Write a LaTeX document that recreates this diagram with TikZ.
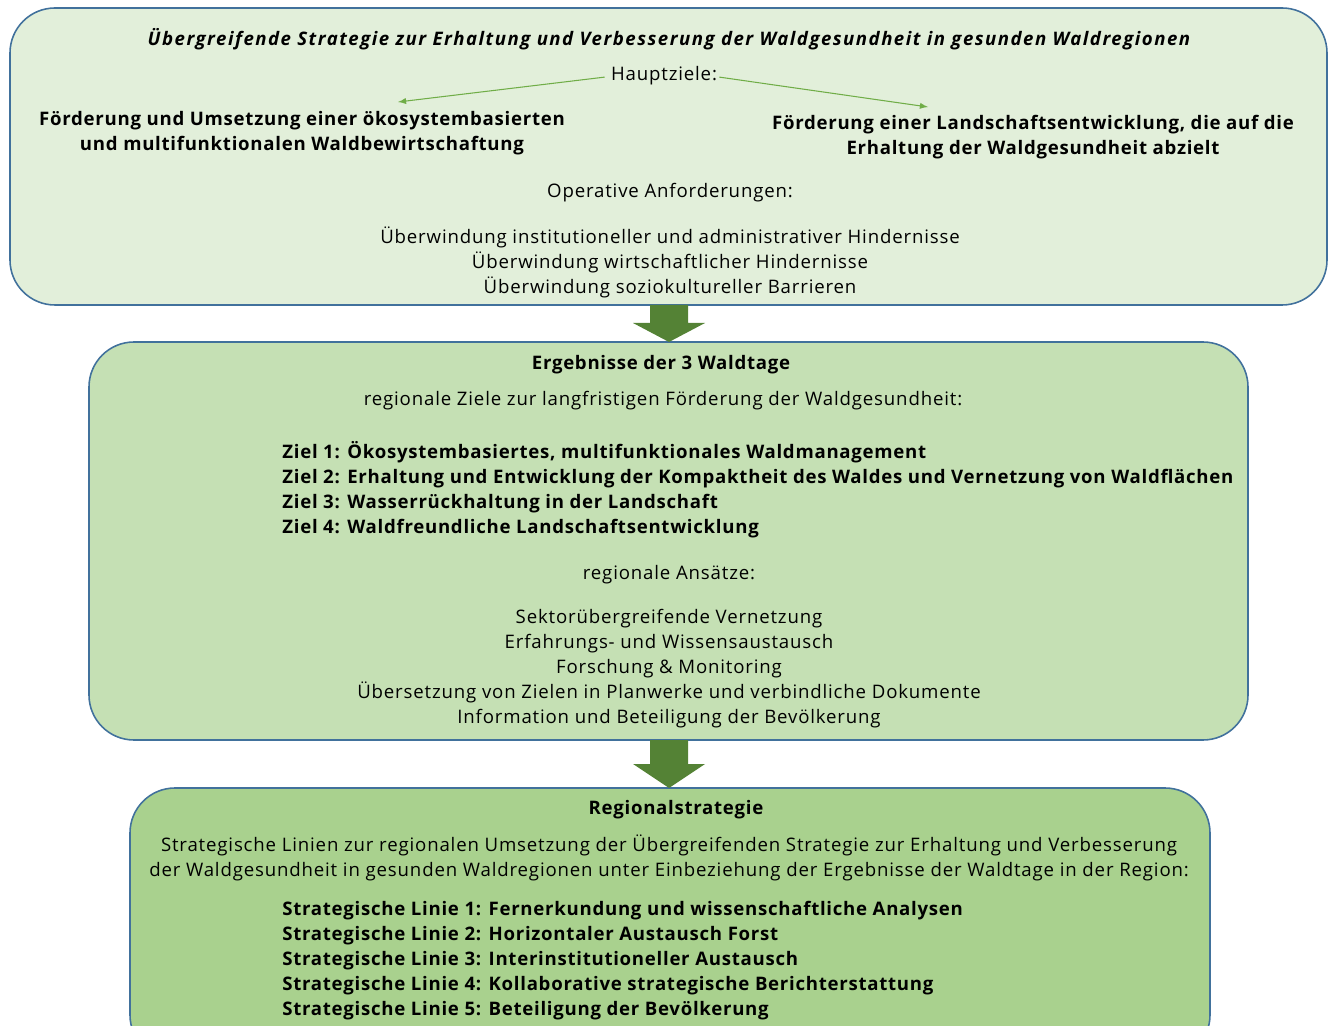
\documentclass[tikz,border=0pt]{standalone}
\usepackage{fontspec}
\setmainfont{Open Sans}[LetterSpace=4.5, BoldFeatures={LetterSpace=3.9}]
\usetikzlibrary{calc}
\definecolor{rahmen}{HTML}{41719C}
\definecolor{gruenA}{HTML}{E2EFDA}
\definecolor{gruenB}{HTML}{C5E0B4}
\definecolor{gruenC}{HTML}{A9D18E}
\definecolor{pfeilgruen}{HTML}{548235}
\definecolor{liniegruen}{HTML}{70AD47}
\tikzset{
  kasten/.style={draw=rahmen, line width=0.9pt, rounded corners=0.9cm},
  txt/.style={inner sep=0pt, yshift=-1.2pt, align=center, font=\fontsize{10.6}{14.2}\selectfont},
  fett/.style={txt, font=\fontsize{10.6}{14.2}\selectfont\bfseries},
  liste/.style={fett, align=left, anchor=west},
  dünn/.style={draw=liniegruen, line width=0.6pt, -latex},
}
\begin{document}
\begin{tikzpicture}[x=0.02cm, y=-0.02cm]
			%%%%% START %%%%%
			\useasboundingbox (0,0) rectangle (1328,1026);
			\clip (0,0) rectangle (1328,1026);
			
			% Kaesten
			\draw[kasten, fill=gruenA] (10,8) rectangle (1327,305);
			\draw[kasten, fill=gruenB] (89,342) rectangle (1248,740);
			\draw[kasten, fill=gruenC] (130,788) rectangle (1210,1060);
			
			% Blockpfeile
			\fill[pfeilgruen] (650,305) -- (688,305) -- (688,323) -- (705,323) -- (669,342) -- (633,323) -- (650,323) -- cycle;
			\fill[pfeilgruen] (650,740) -- (688,740) -- (688,764) -- (705,764) -- (669,788) -- (633,764) -- (650,764) -- cycle;
			
			% oberer Kasten
			\node[fett] (strategie) at (669,37) {\itshape\addfontfeature{LetterSpace=8}Übergreifende Strategie zur Erhaltung und Verbesserung der Waldgesundheit in gesunden Waldregionen};
			\node[txt] (hauptziele) at (664,74) {Hauptziele:};
			\node[fett] (zielL) at (302,131) {Förderung und Umsetzung einer ökosystembasierten\\und multifunktionalen Waldbewirtschaftung};
			\node[fett] (zielR) at (1033,135) {Förderung einer Landschaftsentwicklung, die auf die\\Erhaltung der Waldgesundheit abzielt};
			\coordinate (spitzeL) at (398,102);
			\coordinate (spitzeR) at (928,107);
			\draw[dünn] ($(hauptziele.west)+(-6,1)$) -- (spitzeL);
			\draw[dünn] ($(hauptziele.east)+(2,1)$) -- (spitzeR);
			\node[txt] (operativ) at (670,191) {Operative Anforderungen:};
			\node[txt] (hindernisse) at (670,260) {Überwindung institutioneller und administrativer Hindernisse\\Überwindung wirtschaftlicher Hindernisse\\Überwindung soziokultureller Barrieren};
			
			% mittlerer Kasten
			\node[fett] (waldtage) at (661,363) {Ergebnisse der 3 Waldtage};
			\node[txt] (regziele) at (663,399) {regionale Ziele zur langfristigen Förderung der Waldgesundheit:};
			\node[liste] (ziele) at (282,487.5) {Ziel 1: Ökosystembasiertes, multifunktionales Waldmanagement\\Ziel 2: Erhaltung und Entwicklung der Kompaktheit des Waldes und Vernetzung von Waldflächen\\Ziel 3: Wasserrückhaltung in der Landschaft\\Ziel 4: Waldfreundliche Landschaftsentwicklung};
			\node[txt] (ansaetze) at (669,573) {regionale Ansätze:};
			\node[txt] (ansatzliste) at (669,666.5) {Sektorübergreifende Vernetzung\\Erfahrungs- und Wissensaustausch\\Forschung \& Monitoring\\Übersetzung von Zielen in Planwerke und verbindliche Dokumente\\Information und Beteiligung der Bevölkerung};
			
			% unterer Kasten
			\node[fett] (regional) at (676,808) {Regionalstrategie};
			\node[txt] (linien) at (669,855.5) {Strategische Linien zur regionalen Umsetzung der Übergreifenden Strategie zur Erhaltung und Verbesserung\\der Waldgesundheit in gesunden Waldregionen unter Einbeziehung der Ergebnisse der Waldtage in der Region:};
			\node[liste] (linienliste) at (282,958.5) {Strategische Linie 1: Fernerkundung und wissenschaftliche Analysen\\Strategische Linie 2: Horizontaler Austausch Forst\\Strategische Linie 3: Interinstitutioneller Austausch\\Strategische Linie 4: Kollaborative strategische Berichterstattung\\Strategische Linie 5: Beteiligung der Bevölkerung};
			%%%%% END %%%%%
\end{tikzpicture}
\end{document}
